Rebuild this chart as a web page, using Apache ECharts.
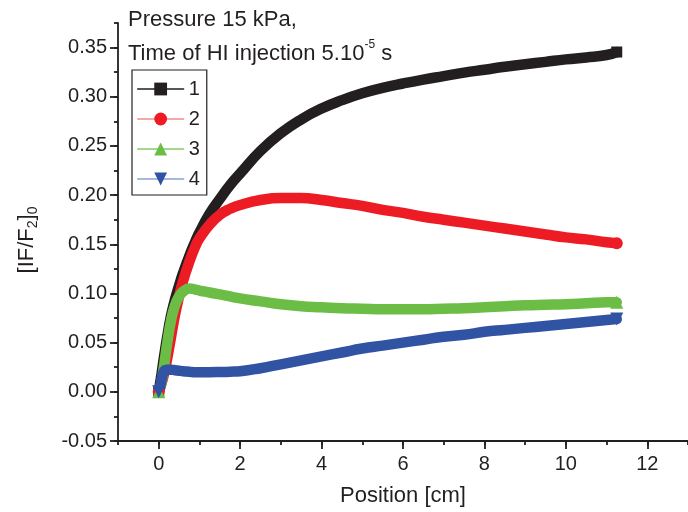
<!DOCTYPE html>
<html><head><meta charset="utf-8">
<script src="https://cdn.jsdelivr.net/npm/echarts@6/dist/echarts.min.js"></script>
<style>html,body{margin:0;padding:0;background:#fff}#c{width:688px;height:512px}</style>
</head><body><div id="c"></div>
<script>
// ---- data ----
const positions = [0,0.05,0.1,0.15,0.2,0.3,0.4,0.5,0.6,0.75,0.9,1.0,1.25,1.5,1.75,2.0,2.5,3.0,3.5,4.0,4.5,5.0,5.5,6.0,6.5,7.0,7.5,8.0,8.5,9.0,9.5,10.0,10.5,11.0,11.25];
const series1 = [0,0.013,0.027,0.041,0.054,0.077,0.094,0.108,0.121,0.138,0.153,0.162,0.181,0.196,0.210,0.222,0.245,0.263,0.277,0.288,0.2965,0.3035,0.309,0.3135,0.3175,0.321,0.3245,0.3275,0.3305,0.333,0.3355,0.338,0.340,0.3425,0.3455];
const series2 = [0,0.006,0.013,0.022,0.032,0.055,0.078,0.097,0.113,0.132,0.148,0.156,0.170,0.180,0.186,0.190,0.195,0.197,0.197,0.195,0.192,0.189,0.185,0.182,0.178,0.175,0.172,0.169,0.166,0.163,0.160,0.157,0.155,0.152,0.151];
const series3 = [0,0.006,0.018,0.032,0.047,0.072,0.088,0.097,0.102,0.105,0.104,0.103,0.101,0.099,0.097,0.095,0.092,0.089,0.087,0.086,0.085,0.0845,0.084,0.084,0.084,0.0845,0.085,0.086,0.087,0.088,0.0885,0.089,0.090,0.091,0.091];
const series4 = [0,0.008,0.018,0.022,0.0225,0.0225,0.022,0.0215,0.021,0.0205,0.020,0.020,0.020,0.0202,0.0205,0.021,0.024,0.028,0.032,0.036,0.040,0.044,0.047,0.050,0.053,0.056,0.058,0.061,0.063,0.065,0.067,0.069,0.071,0.073,0.074];
const seriesNames = ['1','2','3','4'];
const xTicks = [0,2,4,6,8,10,12];
const yTicks = [-0.05,0,0.05,0.10,0.15,0.20,0.25,0.30,0.35];

// ---- styling ----
const ink = '#231f20';
const fontFam = '"Liberation Sans", Arial, Helvetica, sans-serif';
const colors = ['#231f20','#ed1c24','#6cbd45','#3053a4'];
const legendLineColors = ['#231f20','#f38b8e','#86c96c','#8aa0d6'];
const symbols = ['rect','circle','triangle','triangle'];
const rotates = [0,0,0,180];
const sizes = [11,12,13,13];
const allData = [series1, series2, series3, series4];

const chart = echarts.init(document.getElementById('c'), null, {renderer:'canvas'});
const axisLineStyle = {color: ink, width: 1.8};
const lastIdx = positions.length - 1;

const option = {
  animation: false,
  backgroundColor: '#fff',
  grid: {left: 118, top: 23, right: -2, bottom: 69, containLabel: false},
  legend: {
    orient: 'vertical', left: 132, top: 70,
    padding: [9, 7, 6, 5],
    itemWidth: 46, itemHeight: 16, itemGap: 10,
    borderColor: ink, borderWidth: 1.2,
    textStyle: {color: ink, fontSize: 20, fontFamily: fontFam},
    lineStyle: {width: 1.3},
    data: seriesNames.map((n, i) => ({name: n, lineStyle: {color: legendLineColors[i], width: 1.3}}))
  },
  xAxis: [
    {type: 'value', min: -1, max: 13, interval: 1, position: 'bottom',
     axisLine: {show: true, onZero: false, lineStyle: axisLineStyle},
     axisTick: {show: true, inside: false, length: 4, lineStyle: axisLineStyle},
     axisLabel: {customValues: xTicks, formatter: v => String(v), color: ink, fontSize: 20, fontFamily: fontFam, margin: 13},
     splitLine: {show: false},
     name: 'Position [cm]', nameLocation: 'middle', nameGap: 44,
     nameTextStyle: {color: ink, fontSize: 22, fontFamily: fontFam}},
    {type: 'value', min: -1, max: 13, interval: 1, position: 'bottom',
     axisLine: {show: false, onZero: false},
     axisTick: {show: true, inside: false, length: 8, customValues: xTicks, lineStyle: axisLineStyle},
     axisLabel: {show: false}, splitLine: {show: false}}
  ],
  yAxis: [
    {type: 'value', min: -0.05, max: 0.375, interval: 0.025, position: 'left',
     axisLine: {show: true, onZero: false, lineStyle: axisLineStyle},
     axisTick: {show: true, inside: false, length: 4, lineStyle: axisLineStyle},
     axisLabel: {customValues: yTicks, formatter: v => v.toFixed(2), color: ink, fontSize: 20, fontFamily: fontFam, margin: 11},
     splitLine: {show: false}},
    {type: 'value', min: -0.05, max: 0.375, interval: 0.025, position: 'left',
     axisLine: {show: false, onZero: false},
     axisTick: {show: true, inside: false, length: 8, customValues: yTicks, lineStyle: axisLineStyle},
     axisLabel: {show: false}, splitLine: {show: false}}
  ],
  series: allData.map((d, i) => ({
    name: seriesNames[i], type: 'line', xAxisIndex: 0, yAxisIndex: 0,
    data: positions.map((x, k) => [x, d[k]]),
    smooth: 0.5,
    symbol: symbols[i], symbolRotate: rotates[i],
    symbolSize: (v, p) => (p.dataIndex === 0 || p.dataIndex === lastIdx) ? sizes[i] : 0,
    showSymbol: true,
    lineStyle: {color: colors[i], width: 10.5, cap: 'round', join: 'round'},
    itemStyle: {color: colors[i]},
    emphasis: {disabled: true}
  })),
  graphic: [
    {type: 'text', left: 128, top: 9, silent: true,
     style: {text: 'Pressure 15 kPa,', font: '22px ' + fontFam, fill: ink}},
    {type: 'text', left: 128, top: 39, silent: true,
     style: {text: '{a|Time of HI injection 5.10}{s|-5}{a| s}',
       rich: {a: {fontSize: 22, fontFamily: fontFam, lineHeight: 30, fill: ink},
              s: {fontSize: 12, fontFamily: fontFam, lineHeight: 13, verticalAlign: 'top', fill: ink}}}},
    {type: 'text', x: 28, y: 240, rotation: Math.PI / 2, silent: true,
     style: {text: '{a|[IF/F}{s|2}{a|]}{s|0}', align: 'center', verticalAlign: 'middle',
       rich: {a: {fontSize: 22, fontFamily: fontFam, lineHeight: 25, verticalAlign: 'top', fill: ink},
              s: {fontSize: 14, fontFamily: fontFam, lineHeight: 14, verticalAlign: 'bottom', fill: ink}}}}
  ]
};
chart.setOption(option);
</script>
</body></html>
